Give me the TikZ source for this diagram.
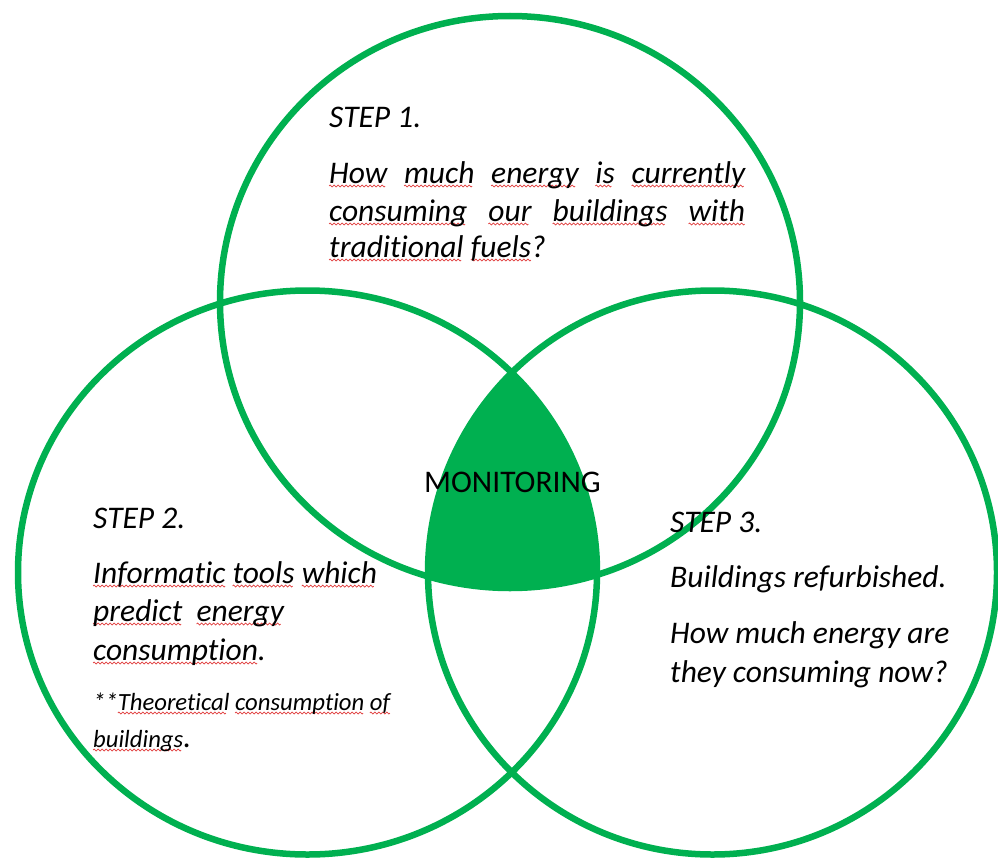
\documentclass[tikz,border=0pt]{standalone}
\usepackage{fontspec}
\setmainfont[RawFeature={-liga}]{Carlito}
\definecolor{vgreen}{HTML}{00B050}
\definecolor{sqred}{HTML}{E03C3C}
\newsavebox\wavebox
\sbox\wavebox{\begin{tikzpicture}[x=1pt,y=1pt]
  \useasboundingbox (0,-1) rectangle (4,1);
  \draw[sqred, line width=0.7pt] (0,0) sin (1,1) cos (2,0) sin (3,-1) cos (4,0);
\end{tikzpicture}}
\newcommand\ru[1]{\setbox0=\hbox{#1}\rlap{\raisebox{-4pt}{\hbox to\wd0{\leaders\hbox{\usebox\wavebox}\hfill}}}\box0\relax}
\tikzset{
  ring/.style={draw=vgreen, line width=6.5pt},
  txt/.style={anchor=base west, inner sep=0pt, font=\fontsize{31.5}{37}\selectfont\itshape},
  smalltxt/.style={anchor=base west, inner sep=0pt, font=\fontsize{24.7}{29}\selectfont\itshape},
  uptxt/.style={anchor=base west, inner sep=0pt, font=\fontsize{31.5}{37}\selectfont}
}
\begin{document}
\begin{tikzpicture}[x=1pt,y=-1pt]
\useasboundingbox (0,0) rectangle (998,859);
\clip (0,0) rectangle (998,859);
% central intersection
\begin{scope}
  \clip (510,302) ellipse [x radius=290, y radius=286];
  \clip (307.5,572.5) ellipse [x radius=289.5, y radius=282];
  \fill[vgreen] (712.5,572.5) ellipse [x radius=284.5, y radius=282];
\end{scope}
% circles
\draw[ring] (510,302) ellipse [x radius=290, y radius=286];
\draw[ring] (307.5,572.5) ellipse [x radius=289.5, y radius=282];
\draw[ring] (712.5,572.5) ellipse [x radius=284.5, y radius=282];
% step 1
\node[txt] (s1) at (329,127) {STEP 1.};
\node[txt] (s1a) at (329,183) {\makebox[416pt][s]{\ru{How} \ru{much} \ru{energy} \ru{is} \ru{currently}}};
\node[txt] (s1b) at (329,221) {\makebox[416pt][s]{\ru{consuming} \ru{our} \ru{buildings} \ru{with}}};
\node[txt] (s1c) at (329,257) {\ru{traditional} \ru{fuels}?};
% monitoring
\node[uptxt] (mon) at (424,492) {MONITORING};
% step 2
\node[txt] (s2) at (93,528) {STEP 2.};
\node[txt] (s2a) at (93,583) {\ru{Informatic} \ru{tools} \ru{which}};
\node[txt] (s2b) at (93,621) {\ru{predict}\ \ \ru{energy}};
\node[txt] (s2c) at (93,660) {\ru{consumption}.};
\node[smalltxt] (s2d) at (93,710) {**\ru{Theoretical} \ru{consumption} \ru{of}};
\node[smalltxt] (s2e) at (93,747) {\ru{buildings}{\fontsize{31.5}{37}\selectfont.}};
% step 3
\node[txt] (s3) at (670,532) {STEP 3.};
\node[txt] (s3a) at (670,587) {Buildings refurbished.};
\node[txt] (s3b) at (670,643) {How much energy are};
\node[txt] (s3c) at (670,682) {they consuming now?};
\end{tikzpicture}
\end{document}
